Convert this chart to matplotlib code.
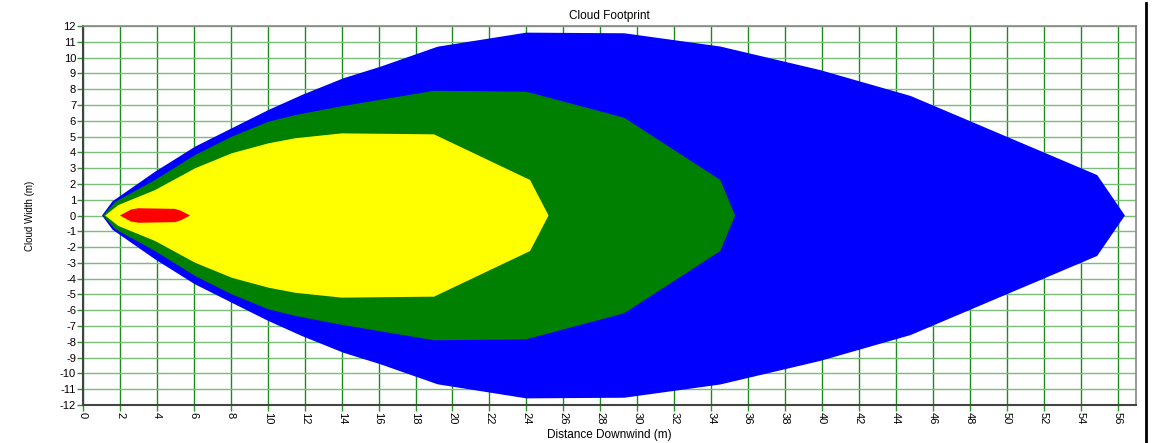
import matplotlib
matplotlib.use('Agg')
import matplotlib.pyplot as plt
from matplotlib.lines import Line2D
import numpy as np

plt.rcParams['font.family'] = ['Liberation Sans', 'DejaVu Sans']

# upper half of each footprint contour (distance downwind, half width), mirrored below
blue_x = [1.03, 1.6, 3.9, 6.07, 8.05, 10.04, 11.85, 14.1, 16.1, 19.2, 24.0, 29.3, 34.5, 39.9, 44.8, 54.9, 56.4]
blue_y = [0.0, 0.9, 2.77, 4.36, 5.52, 6.68, 7.63, 8.69, 9.42, 10.69, 11.58, 11.54, 10.7, 9.21, 7.57, 2.56, 0.0]

green_x = [1.1, 1.73, 3.9, 6.07, 8.05, 10.04, 11.5, 14.0, 19.0, 24.0, 29.3, 34.5, 35.3]
green_y = [0.0, 0.85, 2.25, 3.83, 4.99, 5.94, 6.36, 6.92, 7.9, 7.84, 6.19, 2.25, 0.0]

yellow_x = [1.2, 1.91, 3.9, 6.07, 8.05, 10.04, 11.48, 14.0, 19.0, 24.2, 25.2]
yellow_y = [0.0, 0.66, 1.61, 2.99, 3.94, 4.57, 4.89, 5.2, 5.14, 2.25, 0.0]

red_x = [2.0, 2.6, 3.0, 4.98, 5.3, 5.8]
red_y = [0.0, 0.38, 0.46, 0.42, 0.3, 0.0]

x_ticks = np.arange(0, 57, 2)
y_ticks = np.arange(-12, 13, 1)

fig = plt.figure(figsize=(11.6, 4.43), dpi=100)
ax = fig.add_axes([83/1160, 1 - 405/443, (1136 - 83)/1160, (405 - 26)/443])

ax.set_xlim(0, 57)
ax.set_ylim(-12, 12)

for gx in x_ticks:
    ax.axvline(gx, color='#1a8c1a', lw=1, zorder=0)
for gy in y_ticks:
    ax.axhline(gy, color='#7abd7a', lw=1, zorder=0)

def mirror(xs, ys):
    return list(xs) + list(xs[::-1]), list(ys) + [-v for v in ys[::-1]]

for xs, ys, c in [(blue_x, blue_y, '#0000ff'), (green_x, green_y, '#008000'),
                  (yellow_x, yellow_y, '#ffff00'), (red_x, red_y, '#ff0000')]:
    px, py = mirror(xs, ys)
    ax.fill(px, py, color=c, lw=0, zorder=2)

ax.set_xticks(x_ticks)
ax.set_xticklabels([str(v) for v in x_ticks], rotation=270, fontsize=8)
ax.set_yticks(y_ticks)
ax.set_yticklabels([str(v) for v in y_ticks], fontsize=8)
ax.tick_params(axis='both', direction='out', length=4, width=1, color='#2a962a', pad=1)

for s in ['left', 'bottom']:
    ax.spines[s].set_color('#444444')
    ax.spines[s].set_linewidth(1.5)
for s in ['top', 'right']:
    ax.spines[s].set_color('#888888')
    ax.spines[s].set_linewidth(1.2)

ax.set_title('Cloud Footprint', fontsize=8.5, pad=5)
ax.set_xlabel('Distance Downwind (m)', fontsize=8.5, labelpad=3)
ax.set_ylabel('Cloud Width (m)', fontsize=7, labelpad=18)

fig.add_artist(Line2D([1146/1160, 1146/1160], [0, 1 - 3/443], transform=fig.transFigure,
                      color='black', lw=2))

plt.savefig('out.png', dpi=100)
